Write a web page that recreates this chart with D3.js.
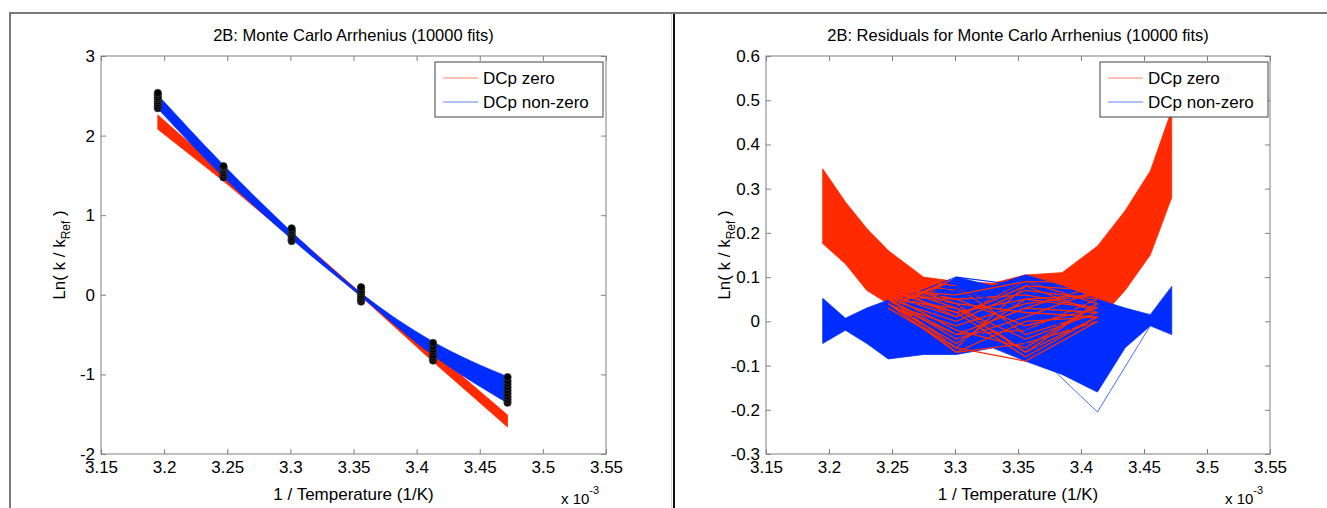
<!DOCTYPE html>
<html>
<head>
<meta charset="utf-8">
<script src="https://cdn.jsdelivr.net/npm/d3@7"></script>
<style>
	body { margin: 0; background: #ffffff; }
	text { font-family: "Liberation Sans", Arial, sans-serif; fill: #000; }
</style>
</head>
<body>
<div id="chart"></div>
<script>
// 1/T (x 10^-3) of the six measured temperatures
const invTemps = [3.195, 3.247, 3.301, 3.356, 3.413, 3.472];

// simulated data clouds (black markers), one list per temperature
const dataClouds = [
	[2.345, 2.37, 2.40, 2.43, 2.46, 2.48, 2.51, 2.535],
	[1.475, 1.50, 1.53, 1.555, 1.58, 1.60, 1.615],
	[0.675, 0.70, 0.73, 0.76, 0.79, 0.81, 0.835],
	[-0.085, -0.06, -0.03, 0.0, 0.03, 0.06, 0.095],
	[-0.825, -0.79, -0.76, -0.72, -0.69, -0.65, -0.605],
	[-1.355, -1.32, -1.28, -1.24, -1.20, -1.16, -1.12, -1.08, -1.035]
];

// envelopes of the 10000 fitted curves, left panel
const zeroFitUpper = [2.26, 1.53, 0.78, 0.02, -0.71, -1.51];
const zeroFitLower = [2.08, 1.43, 0.71, -0.02, -0.84, -1.66];
const nonZeroFitUpper = [2.51, 1.63, 0.79, 0.02, -0.59, -1.03];
const nonZeroFitLower = [2.34, 1.48, 0.70, -0.02, -0.76, -1.36];

// residual grid and envelopes, right panel
const residX = [3.195, 3.213, 3.23, 3.247, 3.275, 3.301, 3.33, 3.356, 3.385, 3.413, 3.435, 3.455, 3.472];
const zeroResUpper = [0.345, 0.27, 0.21, 0.16, 0.10, 0.09, 0.086, 0.105, 0.11, 0.17, 0.25, 0.34, 0.478];
const zeroResLower = [0.176, 0.13, 0.07, 0.04, 0.0, -0.07, -0.04, -0.09, -0.03, 0.0, 0.07, 0.15, 0.28];
const nonZeroResUpper = [0.052, 0.007, 0.03, 0.048, 0.05, 0.10, 0.08, 0.105, 0.08, 0.05, 0.03, 0.015, 0.079];
const nonZeroResLower = [-0.05, -0.02, -0.05, -0.085, -0.075, -0.075, -0.06, -0.09, -0.12, -0.16, -0.06, -0.01, -0.03];

// single fits visible where the two bands cross (values at the middle four temperatures)
const crossX = [3.247, 3.301, 3.356, 3.413];
const zeroResLines = [
	[0.05, -0.06, 0.08, 0.02],
	[0.07, 0.04, -0.07, 0.01],
	[0.04, -0.03, -0.02, 0.05],
	[0.09, 0.07, 0.03, 0.08],
	[0.06, 0.01, 0.09, 0.04],
	[0.05, -0.07, -0.05, 0.0],
	[0.08, 0.05, 0.06, 0.03],
	[0.04, -0.01, 0.04, 0.06],
	[0.10, 0.08, -0.03, 0.02],
	[0.06, 0.02, -0.08, 0.01],
	[0.05, -0.04, 0.01, 0.07],
	[0.07, 0.06, 0.09, 0.09],
	[0.04, -0.05, 0.05, 0.03],
	[0.08, 0.03, -0.04, 0.02],
	[0.06, -0.02, -0.06, 0.04],
	[0.05, 0.0, 0.07, 0.05],
	[0.09, 0.04, 0.02, 0.01],
	[0.03, -0.06, -0.09, 0.0],
	[0.07, 0.02, 0.05, 0.06],
	[0.05, -0.03, 0.03, 0.02],
	[0.06, 0.05, -0.01, 0.03],
	[0.04, -0.07, 0.0, 0.01],
	[0.08, 0.01, 0.08, 0.07],
	[0.05, 0.03, -0.07, 0.04]
];
const nonZeroResLines = [
	[0.03, 0.09, 0.05, 0.02],
	[0.0, 0.03, 0.10, 0.04],
	[-0.02, 0.06, 0.0, -0.03],
	[0.04, 0.10, 0.08, 0.05],
	[0.01, -0.03, 0.06, 0.01],
	[-0.04, 0.02, -0.05, -0.08],
	[0.02, 0.07, 0.03, -0.01],
	[0.04, 0.0, 0.09, 0.03],
	[-0.01, -0.05, 0.02, -0.04],
	[0.03, 0.08, -0.02, 0.02]
];
// the one fit that dips to -0.2
const outlierX = [3.356, 3.413, 3.455];
const outlierRes = [-0.05, -0.205, -0.01];

const xTicks = [3.15, 3.2, 3.25, 3.3, 3.35, 3.4, 3.45, 3.5, 3.55];
const fitTicks = [-2, -1, 0, 1, 2, 3];
const residTicks = [-0.3, -0.2, -0.1, 0, 0.1, 0.2, 0.3, 0.4, 0.5, 0.6];
const legendLabels = ["DCp zero", "DCp non-zero"];

const RED = "#ff2a00";
const BLUE = "#002cff";
const AXIS_GREY = "#808080";
const FONT = 17;

const W = 1327;
const H = 508;

const svg = d3
	.select("#chart")
	.append("svg")
	.attr("width", W)
	.attr("height", H)
	.attr("viewBox", `0 0 ${W} ${H}`);

svg.append("rect").attr("width", W).attr("height", H).attr("fill", "#fff");

// figure frame and the split between the two panels
svg
	.append("path")
	.attr("d", `M10,${H} V13 H${W}`)
	.attr("fill", "none")
	.attr("stroke", "#7a7a7a")
	.attr("stroke-width", 2);
svg
	.append("line")
	.attr("x1", 671.5)
	.attr("x2", 671.5)
	.attr("y1", 14)
	.attr("y2", H)
	.attr("stroke", "#d8d8d8");
svg
	.append("line")
	.attr("x1", 674)
	.attr("x2", 674)
	.attr("y1", 14)
	.attr("y2", H)
	.attr("stroke", "#111")
	.attr("stroke-width", 2);

function drawPanel(opts) {
	const { left, top, width, height, yDomain, yTicks, title } = opts;

	const x = d3.scaleLinear().domain([3.15, 3.55]).range([0, width]);
	const y = d3.scaleLinear().domain(yDomain).range([height, 0]);

	const g = svg.append("g").attr("transform", `translate(${left}, ${top})`);

	const plot = g.append("g").attr("class", "plot-area");

	// axes, ticks point inwards like matlab
	const fmt = d => String(d);
	g.append("g")
		.attr("transform", `translate(0, ${height})`)
		.call(d3.axisBottom(x).tickValues(xTicks).tickSize(-5).tickPadding(7).tickFormat(fmt));
	g.append("g").call(d3.axisTop(x).tickValues(xTicks).tickSize(-5).tickFormat(""));
	g.append("g").call(d3.axisLeft(y).tickValues(yTicks).tickSize(-5).tickPadding(6).tickFormat(fmt));
	g.append("g")
		.attr("transform", `translate(${width}, 0)`)
		.call(d3.axisRight(y).tickValues(yTicks).tickSize(-5).tickFormat(""));

	g.selectAll(".domain").remove();
	g.selectAll(".tick line").attr("stroke", AXIS_GREY);
	g.selectAll(".tick text").attr("font-size", FONT).attr("fill", "#000");

	g.append("rect")
		.attr("width", width)
		.attr("height", height)
		.attr("fill", "none")
		.attr("stroke", AXIS_GREY);

	g.append("text")
		.attr("x", width / 2)
		.attr("y", -15)
		.attr("text-anchor", "middle")
		.attr("font-size", 16.5)
		.text(title);

	g.append("text")
		.attr("x", width / 2)
		.attr("y", height + 46)
		.attr("text-anchor", "middle")
		.attr("font-size", FONT)
		.text("1 / Temperature (1/K)");

	const mult = g
		.append("text")
		.attr("x", width - 45)
		.attr("y", height + 50)
		.attr("font-size", 15);
	mult.append("tspan").text("x 10");
	mult.append("tspan").attr("dy", -10).attr("font-size", 11).text("-3");

	const yl = g
		.append("text")
		.attr("transform", `translate(-36, ${height / 2}) rotate(-90)`)
		.attr("text-anchor", "middle")
		.attr("font-size", FONT);
	yl.append("tspan").text("Ln( k / k");
	yl.append("tspan").attr("dy", 5).attr("font-size", 12).text("Ref");
	yl.append("tspan").attr("dy", -5).text(" )");

	// legend
	const lg = g.append("g").attr("transform", "translate(334, 6)");
	lg.append("rect")
		.attr("width", 168)
		.attr("height", 55)
		.attr("fill", "#fff")
		.attr("stroke", "#444");
	const rows = lg
		.selectAll(".legend-row")
		.data(legendLabels)
		.enter()
		.append("g")
		.attr("transform", (d, i) => `translate(0, ${16 + i * 24})`);
	rows
		.append("line")
		.attr("x1", 8)
		.attr("x2", 43)
		.attr("stroke", (d, i) => (i === 0 ? RED : BLUE))
		.attr("stroke-opacity", 0.6);
	rows
		.append("text")
		.attr("x", 48)
		.attr("dy", "0.36em")
		.attr("font-size", FONT)
		.text(d => d);

	return { x, y, plot };
}

// ---- left panel: fits
const fit = drawPanel({
	left: 101,
	top: 56,
	width: 505,
	height: 398,
	yDomain: [-2, 3],
	yTicks: fitTicks,
	title: "2B: Monte Carlo Arrhenius (10000 fits)"
});

const zeroFitArea = d3
	.area()
	.x((d, i) => fit.x(invTemps[i]))
	.y0((d, i) => fit.y(zeroFitLower[i]))
	.y1(d => fit.y(d));

const nonZeroFitArea = d3
	.area()
	.curve(d3.curveMonotoneX)
	.x((d, i) => fit.x(invTemps[i]))
	.y0((d, i) => fit.y(nonZeroFitLower[i]))
	.y1(d => fit.y(d));

fit.plot
	.append("path")
	.attr("d", zeroFitArea(zeroFitUpper))
	.attr("fill", RED)
	.attr("stroke", RED)
	.attr("stroke-width", 0.8);

fit.plot
	.append("path")
	.attr("d", nonZeroFitArea(nonZeroFitUpper))
	.attr("fill", BLUE)
	.attr("stroke", BLUE)
	.attr("stroke-width", 0.8);

dataClouds.forEach((cloud, i) => {
	fit.plot
		.selectAll(null)
		.data(cloud)
		.enter()
		.append("circle")
		.attr("cx", fit.x(invTemps[i]))
		.attr("cy", d => fit.y(d))
		.attr("r", 3.7)
		.attr("fill", "#000")
		.attr("stroke", "#3a3a3a")
		.attr("stroke-width", 0.8);
});

// ---- right panel: residuals
const res = drawPanel({
	left: 766,
	top: 56,
	width: 504,
	height: 398,
	yDomain: [-0.3, 0.6],
	yTicks: residTicks,
	title: "2B: Residuals for Monte Carlo Arrhenius (10000 fits)"
});

const resArea = lower =>
	d3
		.area()
		.x((d, i) => res.x(residX[i]))
		.y0((d, i) => res.y(lower[i]))
		.y1(d => res.y(d));

const lineOn = xs =>
	d3
		.line()
		.x((d, i) => res.x(xs[i]))
		.y(d => res.y(d));

res.plot
	.append("path")
	.attr("d", resArea(zeroResLower)(zeroResUpper))
	.attr("fill", RED)
	.attr("stroke", RED)
	.attr("stroke-width", 0.8);

res.plot
	.append("path")
	.attr("d", resArea(nonZeroResLower)(nonZeroResUpper))
	.attr("fill", BLUE)
	.attr("stroke", BLUE)
	.attr("stroke-width", 0.8);

// matlab drew the fits one after another, so the colours interleave
zeroResLines.forEach((line, i) => {
	res.plot
		.append("path")
		.attr("d", lineOn(crossX)(line))
		.attr("fill", "none")
		.attr("stroke", RED)
		.attr("stroke-width", 1.3);
	if (nonZeroResLines[i])
		res.plot
			.append("path")
			.attr("d", lineOn(crossX)(nonZeroResLines[i]))
			.attr("fill", "none")
			.attr("stroke", BLUE)
			.attr("stroke-width", 1.1);
});

res.plot
	.append("path")
	.attr("d", lineOn(outlierX)(outlierRes))
	.attr("fill", "none")
	.attr("stroke", BLUE)
	.attr("stroke-width", 0.7);
</script>
</body>
</html>
